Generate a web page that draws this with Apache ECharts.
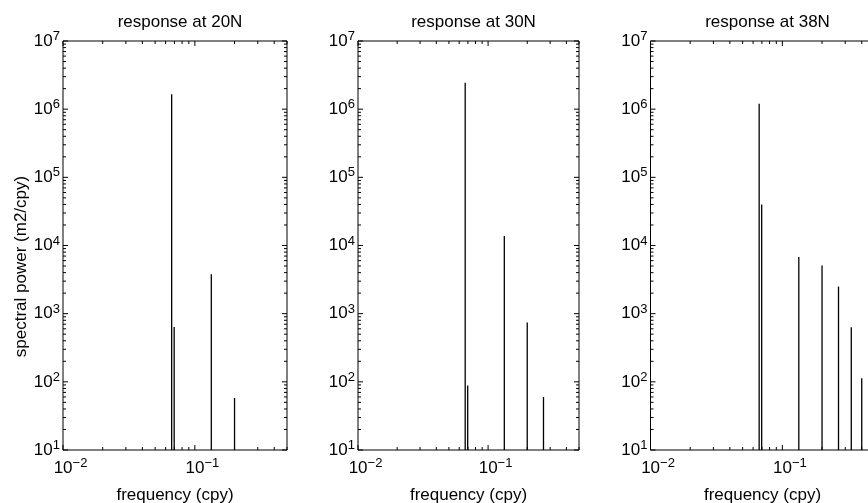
<!DOCTYPE html>
<html>
<head>
<meta charset="utf-8">
<script src="https://cdn.jsdelivr.net/npm/echarts@6/dist/echarts.min.js"></script>
<style>
html,body{margin:0;padding:0;background:#fff;}
#chart{width:868px;height:503px;}
</style>
</head>
<body>
<div id="chart"></div>
<script>
// ---- data ----
const panelTitles = ['response at 20N', 'response at 30N', 'response at 38N'];

const freq20  = [0.0667, 0.0697, 0.1333, 0.2000];
const power20 = [1.65e6, 640, 3.8e3, 58];

const freq30  = [0.0667, 0.0697, 0.1333, 0.2000, 0.2667];
const power30 = [2.45e6, 88, 1.38e4, 740, 60];

const freq38  = [0.0667, 0.0697, 0.1333, 0.2000, 0.2667, 0.3333, 0.4000];
const power38 = [1.2e6, 4.0e4, 6.8e3, 5.1e3, 2.5e3, 630, 113];

const xName = 'frequency (cpy)';
const yName = 'spectral power (m2/cpy)';

// axis limits
const X_MIN = 0.01, X_MAX = 0.5;
const Y_MIN = 10, Y_MAX = 1e7;

// ---- layout ----
const gridBoxes = [
  {left: 63,  width: 224},
  {left: 358, width: 221},
  {left: 650.5, width: 224}
];
const GRID_TOP = 41, GRID_H = 409;

const freqs = [freq20, freq30, freq38];
const powers = [power20, power30, power38];

// tick values (decades x 1..9) inside the axis ranges
function logTicks(lo, hi) {
  const out = [];
  for (let e = Math.floor(Math.log10(lo)); e <= Math.ceil(Math.log10(hi)); e++) {
    for (let m = 1; m <= 9; m++) {
      const v = m * Math.pow(10, e);
      if (v >= lo * 0.9999 && v <= hi * 1.0001) out.push([v, m === 1 ? 1 : 0]);
    }
  }
  return out;
}
const xTicks = logTicks(X_MIN, X_MAX);
const yTicks = logTicks(Y_MIN, Y_MAX);

function expLabel(v) {
  const l = Math.log10(v);
  const e = Math.round(l);
  if (Math.abs(l - e) > 1e-6) return '';
  const s = e < 0 ? '\u2212' + (-e) : String(e);
  return '{b|10}{e|' + s + '}';
}

const FONT = 'Liberation Sans, Arial, Helvetica, sans-serif';

const grids = [], xAxes = [], yAxes = [], titles = [], series = [];

gridBoxes.forEach((g, i) => {
  grids.push({
    left: g.left, width: g.width, top: GRID_TOP, height: GRID_H,
    show: true, borderColor: '#000', borderWidth: 1, backgroundColor: 'transparent',
    containLabel: false, outerBoundsMode: 'none'
  });
  titles.push({
    text: panelTitles[i],
    left: g.left + g.width / 2,
    textAlign: 'center',
    top: 9,
    textStyle: {fontFamily: FONT, fontSize: 17, fontWeight: 'normal', color: '#000'}
  });
  xAxes.push({
    type: 'log', logBase: 10, gridIndex: i, min: X_MIN, max: X_MAX,
    axisLine: {show: false}, axisTick: {show: false}, splitLine: {show: false},
    axisLabel: {
      margin: 7, color: '#000', fontFamily: FONT,
      formatter: expLabel,
      showMaxLabel: false,
      rich: {
        b: {fontSize: 17, lineHeight: 22, fontFamily: FONT, color: '#000', padding: [0, 0, 0, 15]},
        e: {fontSize: 13, lineHeight: 13, fontFamily: FONT, color: '#000', verticalAlign: 'top'}
      }
    },
    name: xName, nameLocation: 'middle', nameGap: 37,
    nameTextStyle: {fontFamily: FONT, fontSize: 17, color: '#000'}
  });
  yAxes.push({
    type: 'log', logBase: 10, gridIndex: i, min: Y_MIN, max: Y_MAX,
    axisLine: {show: false}, axisTick: {show: false}, splitLine: {show: false},
    axisLabel: {
      margin: 3, color: '#000', fontFamily: FONT,
      formatter: expLabel,
      rich: {
        b: {fontSize: 17, lineHeight: 22, fontFamily: FONT, color: '#000'},
        e: {fontSize: 13, lineHeight: 13, fontFamily: FONT, color: '#000', verticalAlign: 'top'}
      }
    },
    name: i === 0 ? yName : '', nameLocation: 'middle', nameGap: 26, nameRotate: 90,
    nameTextStyle: {fontFamily: FONT, fontSize: 17, color: '#000', padding: [0, 42, 0, 0]}
  });

  // spectral lines
  series.push({
    type: 'custom', xAxisIndex: i, yAxisIndex: i, silent: true,
    data: freqs[i].map((f, k) => [f, powers[i][k]]),
    renderItem: function (params, api) {
      const a = api.coord([api.value(0), Y_MIN]);
      const b = api.coord([api.value(0), api.value(1)]);
      return {
        type: 'line',
        shape: {x1: a[0], y1: a[1], x2: b[0], y2: b[1]},
        style: {stroke: '#000', lineWidth: 1.3}
      };
    }
  });

  // x ticks (bottom and top, pointing inward)
  series.push({
    type: 'custom', xAxisIndex: i, yAxisIndex: i, silent: true,
    data: xTicks.map(t => [t[0], Y_MIN, t[1]]),
    renderItem: function (params, api) {
      const v = api.value(0), len = api.value(2) ? 5 : 3;
      const p0 = api.coord([v, Y_MIN]);
      const p1 = api.coord([v, Y_MAX]);
      return {
        type: 'group', children: [
          {type: 'line', shape: {x1: p0[0], y1: p0[1], x2: p0[0], y2: p0[1] - len}, style: {stroke: '#000', lineWidth: 1}},
          {type: 'line', shape: {x1: p1[0], y1: p1[1], x2: p1[0], y2: p1[1] + len}, style: {stroke: '#000', lineWidth: 1}}
        ]
      };
    }
  });

  // y ticks (left and right, pointing inward)
  series.push({
    type: 'custom', xAxisIndex: i, yAxisIndex: i, silent: true,
    data: yTicks.map(t => [X_MIN, t[0], t[1]]),
    renderItem: function (params, api) {
      const v = api.value(1), len = api.value(2) ? 5 : 3;
      const p0 = api.coord([X_MIN, v]);
      const p1 = api.coord([X_MAX, v]);
      return {
        type: 'group', children: [
          {type: 'line', shape: {x1: p0[0], y1: p0[1], x2: p0[0] + len, y2: p0[1]}, style: {stroke: '#000', lineWidth: 1}},
          {type: 'line', shape: {x1: p1[0], y1: p1[1], x2: p1[0] - len, y2: p1[1]}, style: {stroke: '#000', lineWidth: 1}}
        ]
      };
    }
  });
});

const chart = echarts.init(document.getElementById('chart'), null, {renderer: 'canvas'});
chart.setOption({
  animation: false,
  backgroundColor: '#fff',
  title: titles,
  grid: grids,
  xAxis: xAxes,
  yAxis: yAxes,
  series: series
});
</script>
</body>
</html>
